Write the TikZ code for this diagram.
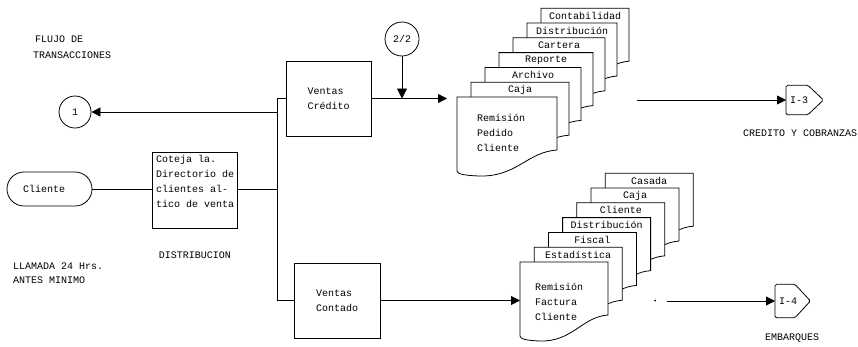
\documentclass[tikz,border=0pt]{standalone}
\usepackage{fontspec}
\setmonofont{Liberation Mono}
\usetikzlibrary{arrows.meta,shapes.misc,calc}

% one sheet of a multi-copy form: x, y, width, node name, copy label
\newcommand\sheetat[5]{%
  \pgfmathsetmacro\sxr{#1+#3}%
  \pgfmathsetmacro\sya{#2+53}%
  \pgfmathsetmacro\syb{#2+74}%
  \draw[sheet] (#1,#2) -- (\sxr,#2) -- (\sxr,\sya)
    .. controls ({#1+0.7*#3},{#2+55}) and ({#1+0.6*#3},{#2+80}) .. ({#1+0.22*#3},{#2+79})
    .. controls ({#1+0.08*#3},{#2+78.5}) and (#1,{#2+77}) .. (#1,\syb) -- cycle;
  \node (#4) at ({#1+#3/2},{#2+7.5}) {#5};
}

\begin{document}
\begin{tikzpicture}[x=1pt,y=-1pt,
  every node/.style={font=\ttfamily\fontsize{10}{15}\selectfont, inner sep=0pt},
  line/.style={line width=0.8pt},
  tip/.style={-{Triangle[length=9pt,width=9pt]}},
  box/.style={draw, line width=0.8pt, rectangle},
  sheet/.style={draw, line width=0.8pt, fill=white}]
\useasboundingbox (0,0) rectangle (858,346);

% headings and notes
\node[anchor=west] (flujo) at (35,39) {FLUJO DE};
\node[anchor=west] (trans) at (33,55) {TRANSACCIONES};
\node[anchor=west] (llamada) at (13,266) {LLAMADA 24 Hrs.};
\node[anchor=west] (antes) at (13,280) {ANTES MINIMO};
\node (distrib) at (195,255) {DISTRIBUCION};
\node (credcob) at (800,133) {CREDITO Y COBRANZAS};
\node (embarques) at (792,338) {EMBARQUES};

% connectors on page
\node[circle, draw, line width=0.8pt, minimum size=32pt] (c1) at (75,112) {1};
\node[circle, draw, line width=0.8pt, minimum size=34pt] (c22) at (402,39) {2/2};

% client terminal and checking step
\node[rounded rectangle, draw, line width=0.8pt, minimum width=85pt, minimum height=34pt]
  (cliente) at (49.5,189) {\makebox[53pt][l]{Cliente}};
\node[box, anchor=north west, minimum width=85pt, minimum height=76pt] (cotejo) at (152,152) {};
\node[anchor=north west, align=left] (cotejotxt) at (156,155)
  {Coteja la.\\Directorio de\\clientes al-\\tico de venta};

% sales processes
\node[box, minimum width=85pt, minimum height=75pt, align=left] (credito) at (328.5,98.5) {Ventas\\Crédito};
\node[box, minimum width=86pt, minimum height=75pt, align=left] (contado) at (337,300.5) {Ventas\\Contado};

% distribution bus
\coordinate (bustop) at (277,98.5);
\coordinate (busbot) at (277,300.5);
\coordinate (busmid) at (277,189);
\draw[line] (cliente.east) -- (cliente.east -| cotejo.west);
\draw[line] (cotejo.east |- busmid) -- (busmid);
\draw[line] (credito.west) -- (bustop) -- (busbot) -- (contado.west);
\draw[line,tip] (bustop |- c1) -- (c1);

% credit sales form set
\sheetat{541}{8.2}{88}{s16}{Contabilidad}
\sheetat{527}{23}{90}{s15}{Distribución}
\sheetat{513}{37.8}{92}{s14}{Cartera}
\sheetat{499}{52.6}{94}{s13}{Reporte}
\sheetat{485}{67.4}{96}{s12}{Archivo}
\sheetat{471}{82.2}{98}{s11}{Caja}
\sheetat{457}{97}{100}{s10}{}
\node[anchor=north west, align=left] (pedidotxt) at (477,114) {Remisión\\Pedido\\Cliente};

% cash sales form set
\sheetat{605.2}{173.2}{88}{s26}{Casada}
\sheetat{591}{188}{88}{s25}{Caja}
\sheetat{576.8}{202.8}{88}{s24}{Cliente}
\sheetat{562.6}{217.6}{88}{s23}{Distribución}
\sheetat{548.4}{232.4}{88}{s22}{Fiscal}
\sheetat{534.2}{247.2}{88}{s21}{Estadística}
\sheetat{520}{262}{88}{s20}{}
\node[anchor=north west, align=left] (facturatxt) at (535,283) {Remisión\\Factura\\Cliente};

% flows into the form sets
\coordinate (pedidoin) at (457,98.5);
\coordinate (facturain) at (520,300.5);
\draw[line,tip,shorten >=10pt] (credito.east) -- (pedidoin);
\draw[line,-{Triangle[length=10pt,width=10pt]}] (c22) -- (c22 |- credito.east);
\draw[line,tip] (contado.east) -- (facturain);

% off-page connectors
\node[minimum width=37pt, minimum height=29pt, anchor=west] (i3) at (786,100) {};
\draw[line, rounded corners=1.5pt] (i3.north west) -- ([xshift=22pt]i3.north west) -- (i3.east)
  -- ([xshift=22pt]i3.south west) -- (i3.south west) -- cycle;
\node[anchor=west] (i3txt) at ([xshift=4pt]i3.west) {I-3};
\node[minimum width=35pt, minimum height=33pt, anchor=west] (i4) at (775,301) {};
\draw[line, rounded corners=1.5pt] (i4.north west) -- ([xshift=20pt]i4.north west) -- (i4.east)
  -- ([xshift=20pt]i4.south west) -- (i4.south west) -- cycle;
\node[anchor=west] (i4txt) at ([xshift=4pt]i4.west) {I-4};

\coordinate (credout) at (637,100);
\coordinate (contout) at (667,301);
\fill (655,300.5) circle (1pt);
\draw[line,tip] (credout) -- (i3.west);
\draw[line,tip] (contout) -- (i4.west);
\end{tikzpicture}
\end{document}
